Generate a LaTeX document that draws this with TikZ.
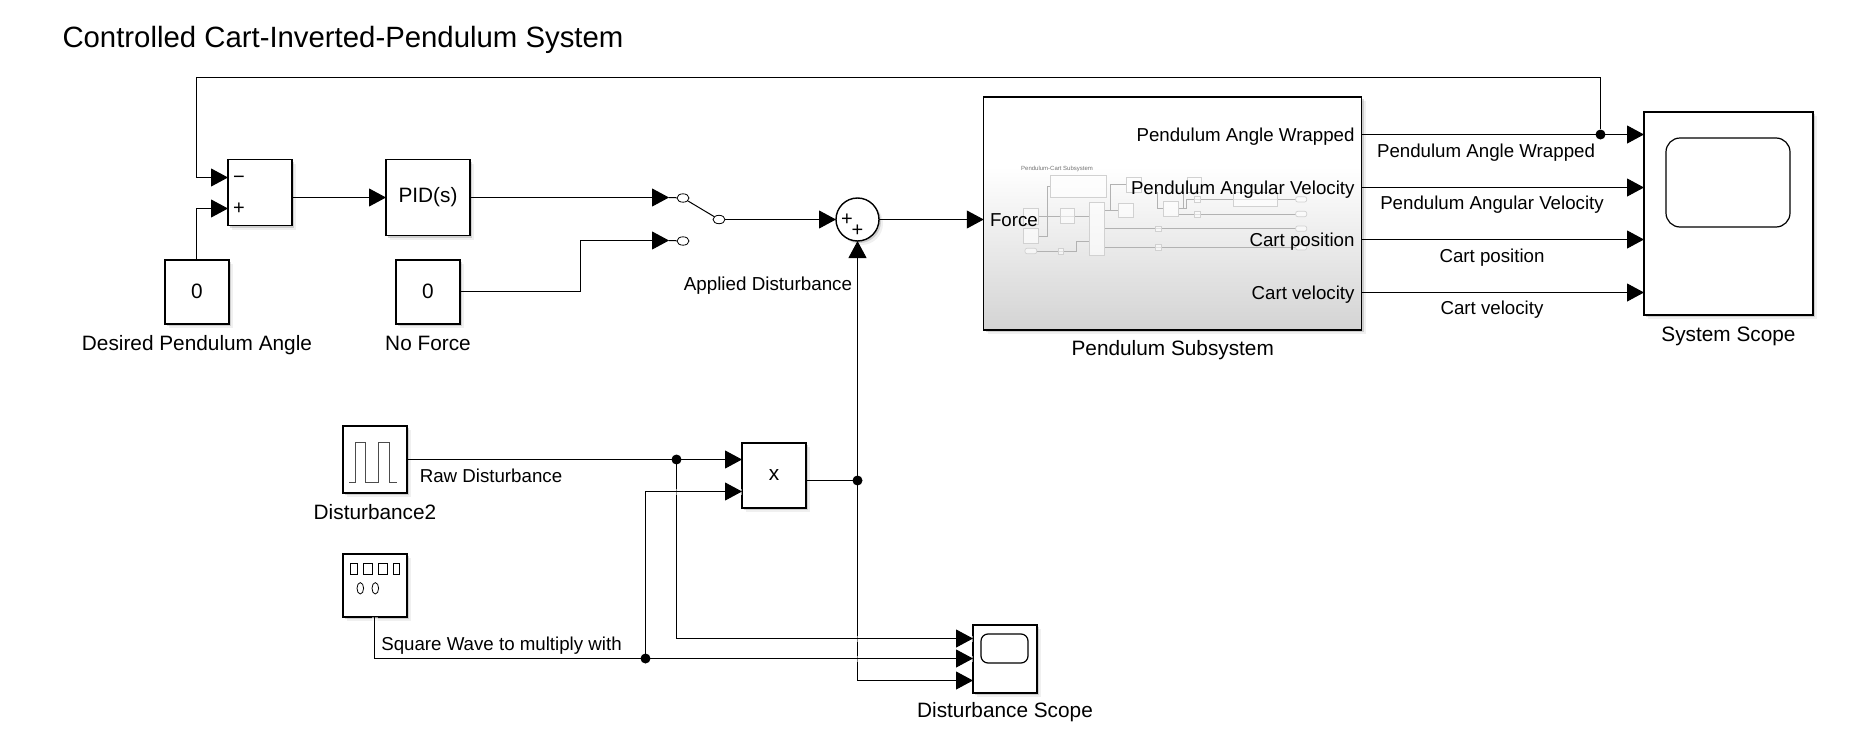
\documentclass[tikz,border=0pt]{standalone}
\usepackage{fontspec}
\setmainfont{Liberation Sans}
\usepackage{tikz}
\usetikzlibrary{positioning, arrows.meta, shapes, shadows}
\pgfdeclareverticalshading{pendshade}{100bp}{color(0bp)=(black!17); color(25bp)=(black!17); color(60bp)=(white); color(100bp)=(white)}
\tikzset{
  block/.style={draw, fill=white, line width=0.7pt, inner sep=0pt, outer sep=0pt, minimum width=32pt, minimum height=32pt, font=\fontsize{10.4}{12}\selectfont, drop shadow={shadow xshift=2pt, shadow yshift=-2pt, opacity=0.12}, drop shadow={shadow xshift=1pt, shadow yshift=-1pt, opacity=0.3}},
  screenbox/.style={draw, line width=0.6pt, rounded corners=3.5pt, inner sep=0pt},
  wire/.style={line width=0.5pt},
  sig/.style={wire, -{Triangle[length=8.5pt, width=9pt]}},
  hop/.style={preaction={draw=white, line width=3pt, opacity=0.55, arrows=-}},
  dot/.style={circle, fill=black, inner sep=0pt, minimum size=5pt},
  swpin/.style={ellipse, draw, line width=0.4pt, inner sep=0pt, minimum width=6pt, minimum height=4.2pt},
  lbl/.style={inner sep=0pt, outer sep=0pt, text height=7.5pt, text depth=0.2pt, font=\fontsize{10.4}{12}\selectfont},
  siglbl/.style={lbl, font=\fontsize{9.35}{11}\selectfont},
  symlbl/.style={lbl, font=\fontsize{10}{10}\selectfont},
  mini/.style={draw=black!18, line width=0.35pt, fill=white, fill opacity=0.6},
  miniline/.style={draw=black!30, line width=0.3pt}
}
\begin{document}
\begin{tikzpicture}[x=0.5pt, y=-0.5pt]
\useasboundingbox (0,0) rectangle (1875,744);
\node[lbl, anchor=west, font=\fontsize{14.67}{17}\selectfont] (title) at (62.5,40) {Controlled Cart-Inverted-Pendulum System};

\node[block, minimum height=33pt] (sum) at (260,192.5) {};
\node[symlbl] (summinus) at (239,176) {−};
\node[symlbl] (sumplus) at (239,207) {+};
\node[block, minimum width=42pt, minimum height=38pt] (pid) at (428,197.5) {\raisebox{-1.5pt}{PID(s)}};
\node[block] (desired) at (197,292) {\raisebox{1.2pt}{0}};
\node[block, right=83.5pt of desired] (noforce) {\raisebox{1.2pt}{0}};
\node[lbl, below=5.5pt of desired] (desiredlbl) {Desired Pendulum Angle};
\node[lbl, below=5.5pt of noforce] (noforcelbl) {No Force};

\coordinate (suma) at (228,177.5);
\coordinate (sumb) at (228,208.5);
\coordinate (swa) at (669,197.5);
\coordinate (swb) at (669,240.5);
\coordinate (swbend) at (580.5,240.5);
\node[swpin] (sw1) at (683,198) {};
\node[swpin] (sw2) at (683,241) {};
\node[swpin] (swout) at (719,219.5) {};
\node[lbl, font=\fontsize{9.4}{11}\selectfont] (swlbl) at (768,283) {Applied Disturbance};
\node[block, circle, minimum width=21.5pt, minimum height=21.5pt] (add) at (857.5,219.5) {};
\node[symlbl] (addp1) at (847,218) {+};
\node[symlbl] (addp2) at (857.5,229) {+};

\node[block, minimum width=189pt, minimum height=116.5pt, shade, shading=pendshade] (pend) at (1172.75,213.5) {};
\node[lbl, below=5pt of pend] (pendlbl) {Pendulum Subsystem};
\node[inner sep=0pt, font=\fontsize{3}{3}\selectfont, text=black!55] (minititle) at (1057,169) {Pendulum-Cart Subsystem};
\draw[miniline] (1038,216.3) -- (1089.3,216.3);
\draw[miniline] (1038,236) -- (1047.3,236) -- (1047.3,186.7) -- (1050.7,186.7);
\draw[miniline] (1036.7,251) -- (1076.7,251) -- (1076.7,241) -- (1089.3,241);
\draw[miniline] (1104.7,210.3) -- (1118.7,210.3);
\draw[miniline] (1110,210.3) -- (1110,184.7) -- (1126.7,184.7);
\draw[miniline] (1104.7,228.7) -- (1295.7,228.7);
\draw[miniline] (1104.7,247.3) -- (1295.7,247.3);
\draw[miniline] (1157.3,192) -- (1157.3,208.7) -- (1163.3,208.7);
\draw[miniline] (1178,208.7) -- (1183.3,208.7) -- (1183.3,192);
\draw[miniline] (1178,208.7) -- (1186.7,208.7) -- (1186.7,199.3) -- (1295.7,199.3);
\draw[miniline] (1178,214) -- (1295.7,214);
\draw[mini] (1050.7,175.7) rectangle (1106.7,197.7);
\draw[mini] (1023.3,208.7) rectangle (1038,224);
\draw[mini] (1023.3,228.7) rectangle (1038,243.3);
\draw[mini] (1060,208.3) rectangle (1074.7,223.3);
\draw[mini] (1089.3,202) rectangle (1104.7,255.3);
\draw[mini] (1118.7,203.3) rectangle (1133.7,217.7);
\draw[mini] (1126.7,177.3) rectangle (1141.7,192);
\draw[mini] (1187,177.3) rectangle (1201.3,192);
\draw[mini] (1163.3,201.3) rectangle (1178,216);
\draw[mini] (1233.5,192) rectangle (1277.3,206.7);
\draw[mini] (1194.3,196.7) rectangle (1200.3,202.7);
\draw[mini] (1194.3,211.3) rectangle (1200.3,217.3);
\draw[mini] (1155.7,226) rectangle (1161.7,231.7);
\draw[mini] (1155.7,244.7) rectangle (1161.7,250.3);
\draw[mini] (1058.3,248) rectangle (1063.7,254);
\draw[mini, rounded corners=1pt] (1295.7,196.7) rectangle (1306.7,202);
\draw[mini, rounded corners=1pt] (1295.7,211.3) rectangle (1306.7,216.7);
\draw[mini, rounded corners=1pt] (1295.7,226) rectangle (1306.7,231.3);
\draw[mini, rounded corners=1pt] (1295.7,244.7) rectangle (1306.7,250);
\draw[mini, rounded corners=1pt] (1025,248.3) rectangle (1036.7,253.7);

\node[siglbl, anchor=west] (force) at (990,219.5) {Force};
\node[siglbl, anchor=east] (outwrap) at (1354.5,134.5) {Pendulum Angle Wrapped};
\node[siglbl, anchor=east] (outvel) at (1354.5,187.5) {Pendulum Angular Velocity};
\node[siglbl, anchor=east] (outpos) at (1354.5,239.5) {Cart position};
\node[siglbl, anchor=east] (outcart) at (1354.5,292.5) {Cart velocity};

\node[block, minimum width=84.5pt, minimum height=101.5pt] (scope) at (1728.5,213.5) {};
\node[screenbox, rounded corners=7pt, minimum width=62pt, minimum height=44.5pt] (screen) at (1728,182.5) {};
\node[lbl, below=5.5pt of scope] (scopelbl) {System Scope};
\node[dot] (tap) at (1600.5,134.5) {};
\coordinate (fbtop) at (1600.5,77.5);
\coordinate (fbleft) at (196.5,77.5);
\node[siglbl] (wraplbl) at (1486,150) {Pendulum Angle Wrapped};
\node[siglbl] (vellbl) at (1492,202) {Pendulum Angular Velocity};
\node[siglbl] (poslbl) at (1492,255.5) {Cart position};
\node[siglbl] (cartlbl) at (1492,307.5) {Cart velocity};

\node[block, minimum height=33.5pt] (pulse) at (375,459.5) {};
\draw[line width=0.4pt, black!70] (349.3,482) -- (355,482) -- (355,442.3) -- (365.7,442.3) -- (365.7,482) -- (378.3,482) -- (378.3,442.3) -- (389.3,442.3) -- (389.3,482) -- (397.3,482);
\node[lbl, below=5.5pt of pulse] (pulselbl) {Disturbance2};
\node[block, minimum height=31.5pt] (square) at (375,585.5) {};
\draw[line width=0.4pt] (350.7,563.7) rectangle (357.3,574.7);
\draw[line width=0.4pt] (363.7,563.7) rectangle (372.3,574.7);
\draw[line width=0.4pt] (378.3,563.7) rectangle (387,574.7);
\draw[line width=0.4pt] (393,563.7) rectangle (399.7,574.7);
\draw[line width=0.4pt] (360.3,588.3) ellipse [x radius=1.65pt, y radius=2.85pt];
\draw[line width=0.4pt] (375.3,588.3) ellipse [x radius=1.65pt, y radius=2.85pt];
\node[block, minimum height=32.5pt] (mult) at (774,475.5) {x};
\node[siglbl] (rawlbl) at (491,475) {Raw Disturbance};
\node[siglbl] (sqlbl) at (501.5,643) {Square Wave to multiply with};
\node[block, minimum height=34pt] (dscope) at (1005,659) {};
\node[screenbox, minimum width=23.5pt, minimum height=14.5pt] (dscreen) at (1004.5,648.5) {};
\node[lbl, below=4.5pt of dscope] (dscopelbl) {Disturbance Scope};
\coordinate (rawjoin) at (676.5,459.5);
\coordinate (sqjoin) at (645.5,658.5);
\coordinate (multjoin) at (857.5,480.5);
\coordinate (multb) at (742,491.5);
\coordinate (dscopea) at (973,638.5);
\coordinate (dscopeb) at (973,658.5);
\coordinate (dscopec) at (973,680.5);

\draw[sig] (tap) -- (fbtop) -- (fbleft) |- (suma);
\draw[sig] ([xshift=-0.25pt]desired.north) |- (sumb);
\draw[sig] (sum.east |- pid.west) -- (pid.west);
\draw[sig] (pid.east) -- (swa);
\draw[sig] ([yshift=0.25pt]noforce.east) -| (swbend) -- (swb);
\draw[wire] (swa) -- (sw1);
\draw[wire] (swb) -- (sw2);
\draw[wire] (sw1) -- (swout);
\draw[sig] (swout) -- (add.west);
\draw[sig] (add.east) -- (add.east -| pend.west);
\draw[sig] (outwrap -| pend.east) -- (outwrap -| scope.west);
\draw[sig] (outvel -| pend.east) -- (outvel -| scope.west);
\draw[sig] (outpos -| pend.east) -- (outpos -| scope.west);
\draw[sig] (outcart -| pend.east) -- (outcart -| scope.west);
\draw[sig] (pulse.east) -- (pulse.east -| mult.west);
\draw[wire] (mult.east |- multjoin) -- (multjoin);
\draw[sig] (multjoin) -- (add.south);
\draw[sig] (multjoin) |- (dscopec);
\draw[sig, hop] (rawjoin) |- (dscopea);
\draw[sig, hop] ([xshift=-0.25pt]square.south) |- (dscopeb);
\draw[sig, hop] (sqjoin) |- (multb);
\node[dot] (rawdot) at (rawjoin) {};
\node[dot] (sqdot) at (sqjoin) {};
\node[dot] (multdot) at (multjoin) {};
\end{tikzpicture}
\end{document}
